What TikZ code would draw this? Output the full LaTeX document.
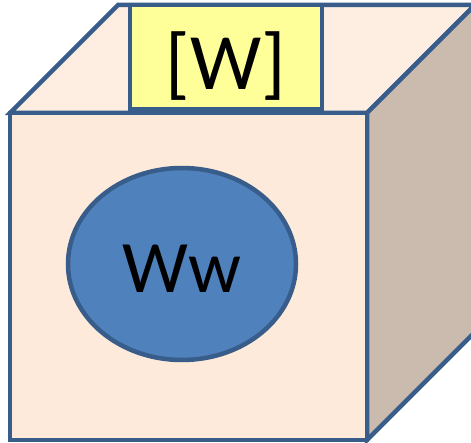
\documentclass[tikz,border=0pt]{standalone}
\usepackage{fontspec}
\setmainfont{Carlito}
\usetikzlibrary{shapes.geometric}
\definecolor{edgeblue}{HTML}{385D8A}
\definecolor{frontpink}{HTML}{FDEADA}
\definecolor{toppink}{HTML}{FDEEE1}
\definecolor{sidetan}{HTML}{CBBBAE}
\definecolor{lidyellow}{HTML}{FFFF99}
\definecolor{coreblue}{HTML}{4F81BD}
\tikzset{
 face/.style={draw=edgeblue,line width=4.5pt},
 lidbox/.style={draw=edgeblue,line width=4.5pt,fill=lidyellow,minimum width=192pt,minimum height=104pt,inner sep=0pt},
 blob/.style={ellipse,draw=edgeblue,line width=4.5pt,fill=coreblue,minimum width=228pt,minimum height=192pt,inner sep=0pt}
}
\begin{document}
\begin{tikzpicture}[x=1pt,y=-1pt,line join=miter]
 \useasboundingbox (0,0) rectangle (471,443);
 % cube faces
 \draw[face,fill=toppink] (10,113)--(118,5)--(475,5)--(367,113)--cycle;
 \draw[face,fill=sidetan] (367,113)--(475,5)--(475,332)--(367,440)--cycle;
 \node[lidbox] (lid) at (226,57) {};
 \draw[face,fill=frontpink] (10,113) rectangle (367,440);
 % contents
 \node[blob] (core) at (182,264) {};
 \node[font=\fontsize{74}{80}\selectfont,inner sep=0pt] (ww) at ([yshift=-5pt]core.center) {Ww};
 \node[font=\fontsize{80}{86}\selectfont,inner sep=0pt] (wlabel) at (226,66) {[W]};
\end{tikzpicture}
\end{document}
